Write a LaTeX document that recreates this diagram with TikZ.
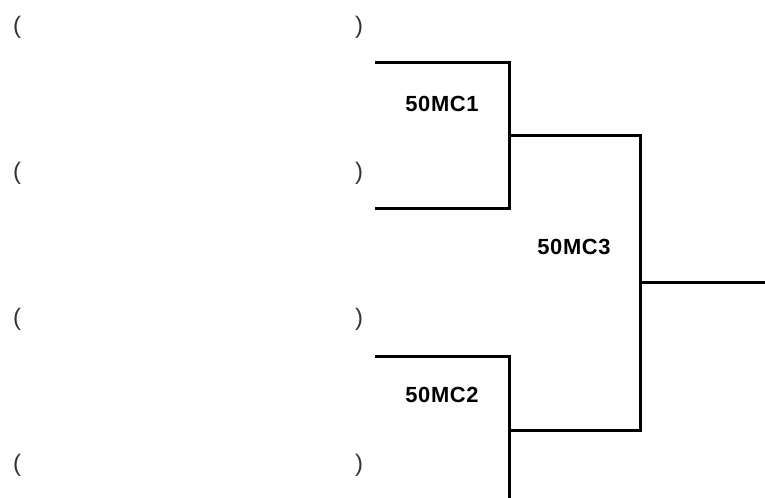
\documentclass[tikz,border=0pt]{standalone}
\usepackage{fontspec}
\setmainfont{Liberation Sans}
\newfontfamily\labfont[LetterSpace=3]{Liberation Sans}
\begin{document}
\begin{tikzpicture}[x=1bp,y=-1bp,
  bline/.style={line width=3bp,line cap=rect,black},
  lab/.style={font=\fontsize{22}{24}\selectfont\labfont\bfseries,inner sep=0pt},
  par/.style={font=\fontsize{24}{26}\selectfont\color{black!80},inner sep=0pt}]
\useasboundingbox (0,0) rectangle (765,498);
% parentheses
\foreach \i/\y in {1/27,2/173,3/319,4/465}{
  \node[par] (l\i) at (17,\y) {(};
  \node[par] (r\i) at (359,\y) {)};
}
% corners
\coordinate (a1) at (376,63);
\coordinate (a2) at (509,63);
\coordinate (a3) at (509,209);
\coordinate (a4) at (376,209);
\coordinate (m1) at (509,136);
\coordinate (b1) at (376,356);
\coordinate (b2) at (509,356);
\coordinate (b3) at (509,499);
\coordinate (m2) at (509,430);
\coordinate (c1) at (640,136);
\coordinate (c2) at (640,430);
\coordinate (c3) at (640,282);
\coordinate (out) at (766,282);
\draw[bline] (a1) -- (a2) -- (a3) -- (a4);
\draw[bline] (b1) -- (b2) -- (b3);
\draw[bline] (m1) -- (c1) -- (c2) -- (m2);
\draw[bline] (c3) -- (out);
% labels
\node[lab] (n1) at (442,104) {50MC1};
\node[lab] (n2) at (442,395) {50MC2};
\node[lab] (n3) at (574,247) {50MC3};
\end{tikzpicture}
\end{document}
